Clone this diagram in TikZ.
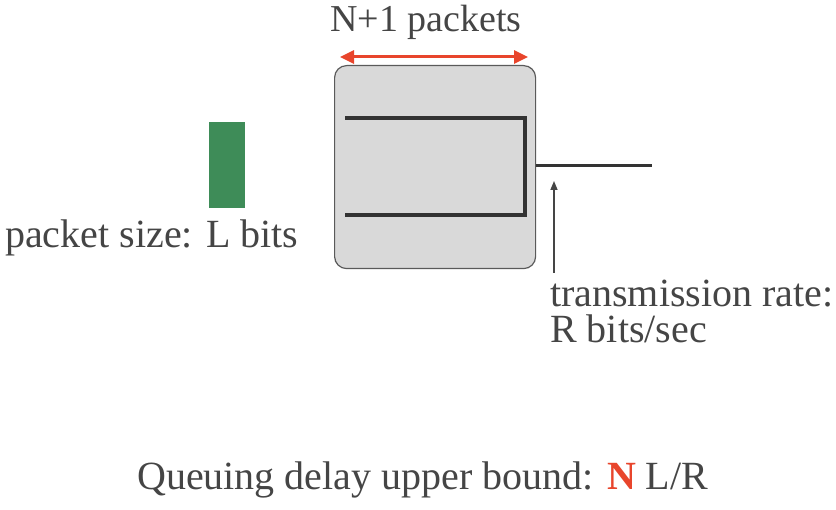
\documentclass[tikz,border=0pt]{standalone}
\usepackage{fontspec}
\setmainfont{Liberation Serif}
\usetikzlibrary{arrows.meta}
\definecolor{txt}{HTML}{454545}
\definecolor{boxfill}{HTML}{D9D9D9}
\definecolor{boxline}{HTML}{5A5A5A}
\definecolor{qline}{HTML}{333333}
\definecolor{pkt}{HTML}{3E8C58}
\definecolor{redc}{HTML}{E8452C}
\begin{document}
\begin{tikzpicture}[x=1pt,y=-1pt,
  lbl/.style={text=txt, font=\fontsize{40}{36}\selectfont, inner sep=0, anchor=base west},
  qstroke/.style={draw=qline, line width=4pt},
  ratearrow/.style={draw=txt, line width=1.5pt, -{Triangle[length=9pt,width=7pt]}},
  sizearrow/.style={draw=redc, line width=3pt, {Triangle[length=14pt,width=13pt]}-{Triangle[length=14pt,width=13pt]}}]
\useasboundingbox (0,0) rectangle (836,510);
\node[draw=boxline, fill=boxfill, rounded corners=12pt, line width=1.2pt,
  minimum width=201pt, minimum height=203pt, anchor=north west, inner sep=0] (buf) at (334,65) {};
\coordinate (qtl) at (345,118);
\coordinate (qbr) at (525,215);
\coordinate (qbl) at (345,215);
\draw[qstroke] (qtl) -| (qbr) -- (qbl);
\coordinate (outend) at (652,166);
\draw[draw=qline, line width=3pt] (buf.east |- outend) -- (outend);
\coordinate (arrL) at (340,57);
\coordinate (arrR) at (528,57);
\draw[sizearrow] (arrL) -- (arrR);
\node[lbl, font=\fontsize{38}{36}\selectfont] (ntext) at (330,32) {N+1 packets};
\node[fill=pkt, minimum width=36pt, minimum height=86pt, inner sep=0, anchor=north west] (pkt) at (209,122) {};
\node[lbl] (psize) at (5,248) {packet size: L bits};
\node[lbl, align=left, anchor=north west] (rate) at (550,279.7) {transmission rate:\\R bits/sec};
\coordinate (ratetip) at (554,181);
\draw[ratearrow] (rate.north west -| ratetip) ++(0,-7) -- (ratetip);
\node[lbl] (delay) at (137,490) {Queuing delay upper bound: {\color{redc}\bfseries N} L/R};
\end{tikzpicture}
\end{document}
